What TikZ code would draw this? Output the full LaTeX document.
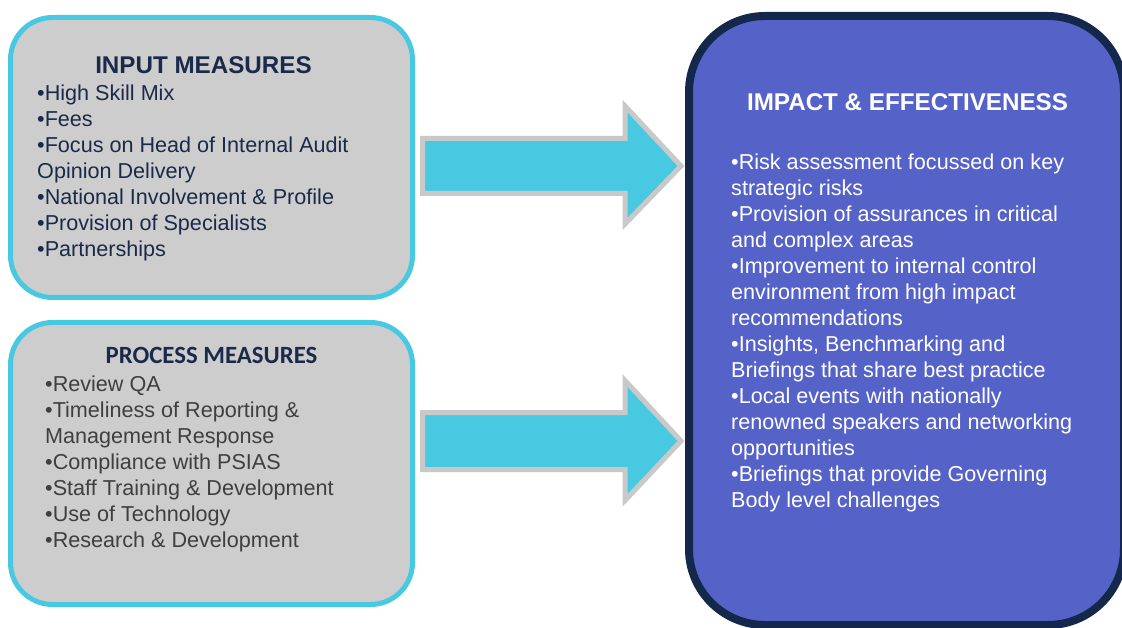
\documentclass[tikz,border=0pt]{standalone}
\usepackage{fontspec}
\setmainfont{Liberation Sans}
\newfontfamily\calib{Carlito}
\definecolor{boxcyan}{HTML}{49C9E1}
\definecolor{boxgray}{HTML}{CDCDCD}
\definecolor{inknavy}{HTML}{1B2A4A}
\definecolor{inkgray}{HTML}{3F3F3F}
\definecolor{impactfill}{HTML}{5563C9}
\definecolor{impactline}{HTML}{13284A}
\definecolor{arrowline}{HTML}{C9C9C9}
\tikzset{
  measurebox/.style={draw=boxcyan, line width=5pt, fill=boxgray, rounded corners=42pt},
  impactbox/.style={draw=impactline, line width=8pt, fill=impactfill, rounded corners=76pt},
  blockarrow/.style={draw=arrowline, line width=5pt, fill=boxcyan, line join=miter},
  bodytext/.style={anchor=north west, inner sep=0pt, align=left,
    font=\fontsize{21.6}{26}\selectfont},
  headtext/.style={anchor=base, inner sep=0pt, font=\fontsize{24.2}{28}\selectfont\bfseries},
}
\begin{document}
\begin{tikzpicture}[x=1pt,y=-1pt]
\useasboundingbox (0,0) rectangle (1122,628);

% boxes
\path[measurebox] (10.5,17.5) rectangle (412.5,297.5);
\path[measurebox] (10.5,322.5) rectangle (412.5,604.5);
\path[impactbox] (689,16) rectangle (1124,625);

% block arrows
\draw[blockarrow] (422.5,138.5) -- (625,138.5) -- (625,106) -- (681,166)
  -- (625,224) -- (625,193.5) -- (422.5,193.5) -- cycle;
\draw[blockarrow] (422.5,412.5) -- (625,412.5) -- (625,380.5) -- (681,441)
  -- (625,500.5) -- (625,469.5) -- (422.5,469.5) -- cycle;

% input measures
\node[headtext, text=inknavy] (intitle) at (203.5,74) {INPUT MEASURES};
\node[bodytext, text=inknavy] (inlist) at (37,84.5) {%
•High Skill Mix\\
•Fees\\
•Focus on Head of Internal Audit\\
Opinion Delivery\\
•National Involvement \& Profile\\
•Provision of Specialists\\
•Partnerships};

% process measures
\node[anchor=base, inner sep=0pt, text=inknavy,
  font=\fontsize{24.8}{28}\selectfont\calib\bfseries] (proctitle) at (211.5,363) {PROCESS MEASURES};
\node[bodytext, text=inkgray] (proclist) at (45,376) {%
•Review QA\\
•Timeliness of Reporting \&\\
Management Response\\
•Compliance with PSIAS\\
•Staff Training \& Development\\
•Use of Technology\\
•Research \& Development};

% impact and effectiveness
\node[headtext, text=white] (imptitle) at (907.5,111) {IMPACT \& EFFECTIVENESS};
\node[bodytext, text=white] (implist) at (731,153.5) {%
•Risk assessment focussed on key\\
strategic risks\\
•Provision of assurances in critical\\
and complex areas\\
•Improvement to internal control\\
environment from high impact\\
recommendations\\
•Insights, Benchmarking and\\
Briefings that share best practice\\
•Local events with nationally\\
renowned speakers and networking\\
opportunities\\
•Briefings that provide Governing\\
Body level challenges};
\end{tikzpicture}
\end{document}
